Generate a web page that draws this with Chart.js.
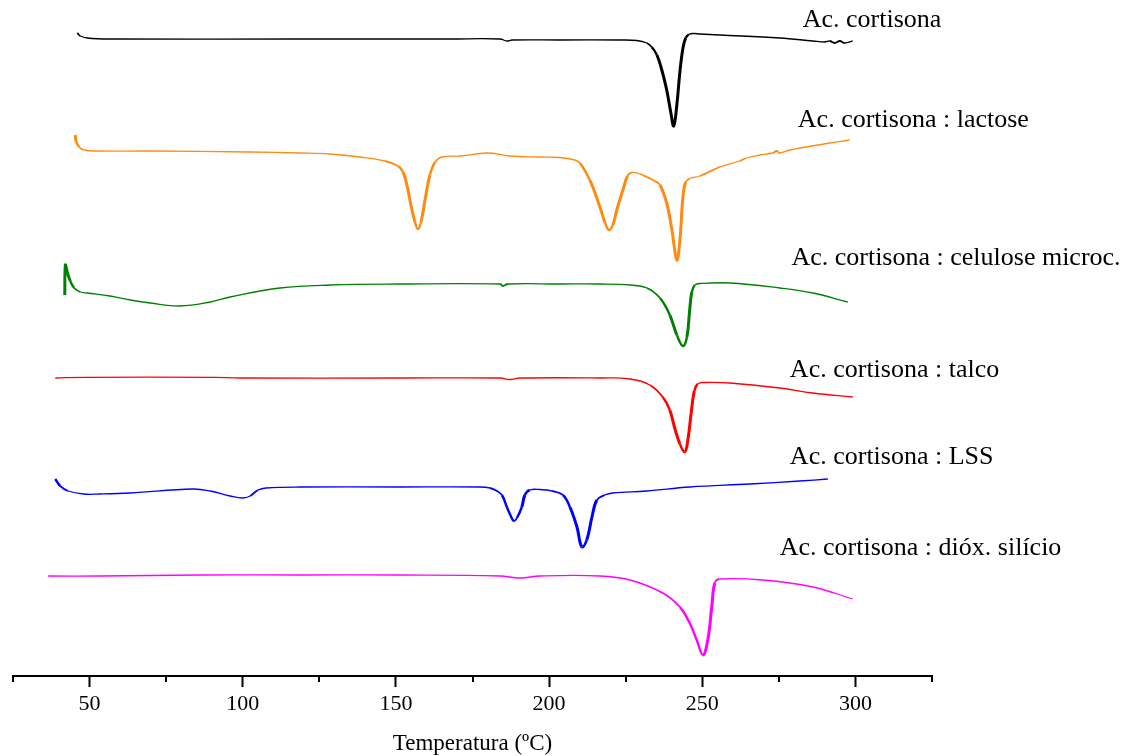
<!DOCTYPE html>
<html lang="pt">
<head>
<meta charset="utf-8">
<title>DSC - Ac. cortisona e excipientes</title>
<script src="https://cdn.jsdelivr.net/npm/chart.js@4.4.1/dist/chart.umd.min.js"></script>
<style>
  html, body { margin: 0; padding: 0; background: #fff; }
  #box { width: 1133px; height: 756px; position: relative; }
</style>
</head>
<body>
<div id="box"><canvas id="graficoDSC"></canvas></div>
<script>
// Curvas DSC: [temperatura (ºC), sinal (u.a., já com o deslocamento de cada amostra)]
const cortisona = [
  [46.0, 64.3], [47.0, 64.0], [49.2, 63.8], [56.7, 63.7], [118.7, 63.7], [167.6, 63.7],
  [184.0, 63.7], [186.2, 63.5], [187.9, 63.6], [203.5, 63.6], [223.1, 63.6], [228.6, 63.55],
  [231.9, 63.3], [233.5, 62.9], [235.2, 62.1], [236.8, 60.6], [238.4, 58.6], [239.7, 56.4],
  [240.7, 55.0], [241.7, 57.1], [242.7, 60.4], [243.7, 62.8], [244.6, 63.8], [245.6, 64.15],
  [247.2, 64.25], [249.2, 64.2], [255.7, 64.1], [275.3, 63.8], [286.1, 63.5], [290.0, 63.4],
  [291.6, 63.5], [293.2, 63.3], [294.9, 63.5], [296.5, 63.3], [299.1, 63.5]
];
const cortisonaLactose = [
  [45.3, 54.1], [45.6, 53.5], [46.6, 52.9], [48.3, 52.6], [51.8, 52.5], [69.8, 52.5],
  [102.4, 52.4], [118.7, 52.3], [128.5, 52.2], [138.3, 51.9], [146.4, 51.5], [150.7, 51.0],
  [152.3, 50.4], [153.6, 49.1], [154.9, 47.1], [156.2, 45.4], [157.2, 44.7], [158.2, 45.4],
  [159.5, 47.6], [161.1, 50.1], [162.8, 51.4], [165.0, 51.9], [170.9, 52.0], [179.7, 52.3],
  [187.2, 52.0], [197.0, 51.9], [203.5, 51.85], [208.4, 51.6], [210.1, 51.3], [213.3, 49.6],
  [216.6, 46.9], [218.2, 45.4], [219.5, 44.6], [220.8, 45.1], [222.1, 46.6], [224.1, 48.6],
  [225.6, 50.0], [227.0, 50.35], [229.6, 50.2], [231.9, 49.9], [234.5, 49.5], [236.2, 49.1],
  [238.4, 47.3], [240.1, 44.6], [241.7, 41.6], [242.7, 43.6], [243.7, 47.9], [244.6, 49.4],
  [246.0, 49.75], [249.2, 50.0], [255.7, 50.9], [262.2, 51.5], [264.5, 51.8], [268.8, 52.1],
  [273.0, 52.3], [274.3, 52.5], [275.3, 52.3], [278.6, 52.6], [281.8, 52.8], [291.6, 53.3],
  [298.1, 53.6]
];
const cortisonaCelulose = [
  [41.9, 38.1], [42.1, 41.1], [42.7, 40.4], [43.7, 39.5], [45.0, 38.8], [47.0, 38.4],
  [49.2, 38.3], [56.7, 38.0], [63.3, 37.6], [69.8, 37.3], [79.6, 37.0], [89.4, 37.4],
  [95.9, 37.9], [112.2, 38.8], [128.5, 39.1], [151.3, 39.2], [184.0, 39.2], [184.9, 39.0],
  [186.6, 39.2], [203.5, 39.2], [216.6, 39.2], [226.4, 39.1], [231.9, 38.8], [236.2, 37.8],
  [239.4, 36.1], [241.7, 34.1], [243.7, 33.0], [245.0, 33.9], [245.9, 36.6], [246.6, 38.4],
  [247.6, 39.1], [249.2, 39.25], [259.0, 39.3], [275.3, 38.8], [286.1, 38.3], [297.5, 37.4]
];
const cortisonaTalco = [
  [38.8, 29.8], [48.6, 29.87], [91.0, 29.87], [99.1, 29.8], [151.3, 29.8], [184.0, 29.8],
  [187.2, 29.65], [190.5, 29.8], [216.6, 29.8], [226.4, 29.7], [232.9, 29.1], [237.1, 27.9],
  [239.4, 26.6], [241.0, 24.8], [242.7, 23.2], [244.3, 22.4], [245.3, 23.6], [246.3, 26.1],
  [247.4, 28.5], [248.5, 29.2], [250.5, 29.35], [259.0, 29.3], [275.3, 28.8], [286.1, 28.3],
  [299.1, 27.9]
];
const cortisonaLSS = [
  [38.8, 19.7], [40.4, 19.0], [43.0, 18.5], [47.9, 18.2], [53.5, 18.2], [63.3, 18.3],
  [83.8, 18.7], [89.4, 18.5], [95.9, 18.0], [100.1, 17.8], [102.4, 18.0], [105.0, 18.6],
  [107.6, 18.8], [118.7, 18.9], [151.3, 18.9], [177.4, 18.9], [180.7, 18.8], [183.0, 18.5],
  [184.6, 18.1], [186.2, 16.9], [187.5, 16.0], [188.5, 15.5], [189.5, 15.8], [191.1, 16.9],
  [192.1, 18.1], [193.7, 18.6], [197.0, 18.65], [201.0, 18.5], [204.5, 18.1], [206.8, 16.9],
  [209.1, 14.9], [210.7, 12.9], [212.3, 13.6], [214.0, 15.9], [215.6, 17.6], [218.2, 18.1],
  [220.8, 18.3], [231.9, 18.5], [245.9, 18.9], [265.5, 19.2], [281.8, 19.5], [291.0, 19.7]
];
const cortisonaSilicio = [
  [36.5, 10.0], [53.5, 10.0], [86.1, 10.1], [118.7, 10.1], [151.3, 10.1], [184.0, 10.0],
  [190.5, 9.8], [197.0, 10.0], [216.6, 10.0], [226.4, 9.6], [237.1, 8.3], [242.7, 6.9],
  [245.9, 5.3], [248.2, 3.6], [250.2, 2.1], [251.8, 3.6], [253.1, 6.9], [254.1, 9.3],
  [255.7, 9.7], [269.8, 9.6], [286.1, 8.9], [299.1, 7.7]
];

const nomesAmostras = [
  "Ac. cortisona",
  "Ac. cortisona : lactose",
  "Ac. cortisona : celulose microc.",
  "Ac. cortisona : talco",
  "Ac. cortisona : LSS",
  "Ac. cortisona : dióx. silício"
];
// onde começa cada legenda (temperatura, sinal)
const posicaoNomes = [
  [282.8, 65.6], [281.2, 55.6], [279.1, 41.8], [278.6, 30.6], [278.6, 21.9], [275.3, 12.8]
];
const coresAmostras = ["#000000", "#ff8a12", "#008000", "#ff0000", "#0000ff", "#ff00ff"];

const eixoMin = 25, eixoMax = 325, passoTicks = 25;
const sinalMin = 0, sinalMax = 67.6;

const fonte = "'Liberation Serif', 'Times New Roman', serif";

// traço mais grosso nos trechos íngremes (picos)
function larguraSegmento(ctx) {
  const dx = Math.abs(ctx.p1.x - ctx.p0.x) || 0.01;
  const dy = Math.abs(ctx.p1.y - ctx.p0.y);
  const s = dy / dx;
  if (s > 2.5) return 3;
  if (s > 1) return 2.4;
  if (s > 0.35) return 1.8;
  return 1.3;
}

// nomes das amostras ao lado de cada curva
const pluginNomes = {
  id: "nomesAmostras",
  afterDraw(chart) {
    const c = chart.ctx, sx = chart.scales.x, sy = chart.scales.y;
    c.save();
    c.font = "26px " + fonte;
    c.fillStyle = "#000";
    c.textBaseline = "middle";
    c.textAlign = "left";
    nomesAmostras.forEach((nome, i) => {
      c.fillText(nome, sx.getPixelForValue(posicaoNomes[i][0]), sy.getPixelForValue(posicaoNomes[i][1]));
    });
    c.restore();
  }
};

// ticks menores (a cada 25 ºC entre os principais)
const pluginTicksMenores = {
  id: "ticksMenores",
  afterDraw(chart) {
    const c = chart.ctx, sx = chart.scales.x;
    c.save();
    c.strokeStyle = "#000";
    c.lineWidth = 2;
    for (let v = eixoMin; v <= eixoMax; v += passoTicks) {
      if (v % 50 === 0) continue;
      const px = Math.round(sx.getPixelForValue(v));
      c.beginPath();
      c.moveTo(px, sx.top);
      c.lineTo(px, sx.top + 6);
      c.stroke();
    }
    c.restore();
  }
};

document.addEventListener("DOMContentLoaded", function () {
  const series = [cortisona, cortisonaLactose, cortisonaCelulose, cortisonaTalco, cortisonaLSS, cortisonaSilicio];

  const datasets = series.map((pontos, i) => ({
    label: nomesAmostras[i],
    data: pontos.map(p => ({ x: p[0], y: p[1] })),
    borderColor: coresAmostras[i],
    borderWidth: 1.3,
    pointRadius: 0,
    fill: false,
    tension: 0.4,
    segment: { borderWidth: larguraSegmento }
  }));

  const ctx = document.getElementById("graficoDSC").getContext("2d");
  new Chart(ctx, {
    type: "line",
    data: { datasets: datasets },
    options: {
      responsive: true,
      maintainAspectRatio: false,
      animation: false,
      layout: { padding: { left: 13, right: 201, top: 0, bottom: 0 } },
      plugins: { legend: { display: false }, tooltip: { enabled: false } },
      scales: {
        x: {
          type: "linear",
          min: eixoMin,
          max: eixoMax,
          afterFit: s => { s.height = 80; },
          border: { display: true, color: "#000", width: 2 },
          grid: {
            display: true,
            drawOnChartArea: false,
            drawTicks: true,
            tickLength: 11,
            tickWidth: 2,
            tickColor: c => (c.tick && c.tick.value % 50 === 0 ? "#000" : "rgba(0,0,0,0)")
          },
          ticks: {
            stepSize: passoTicks,
            autoSkip: false,
            maxRotation: 0,
            padding: 4,
            color: "#000",
            font: { family: fonte, size: 22 },
            callback: v => (v % 50 === 0 ? v : "")
          },
          title: {
            display: true,
            text: "Temperatura (ºC)",
            color: "#000",
            font: { family: fonte, size: 23 },
            padding: { top: 0, bottom: -2 }
          }
        },
        y: { display: false, min: sinalMin, max: sinalMax }
      }
    },
    plugins: [pluginNomes, pluginTicksMenores]
  });
});
</script>
</body>
</html>
